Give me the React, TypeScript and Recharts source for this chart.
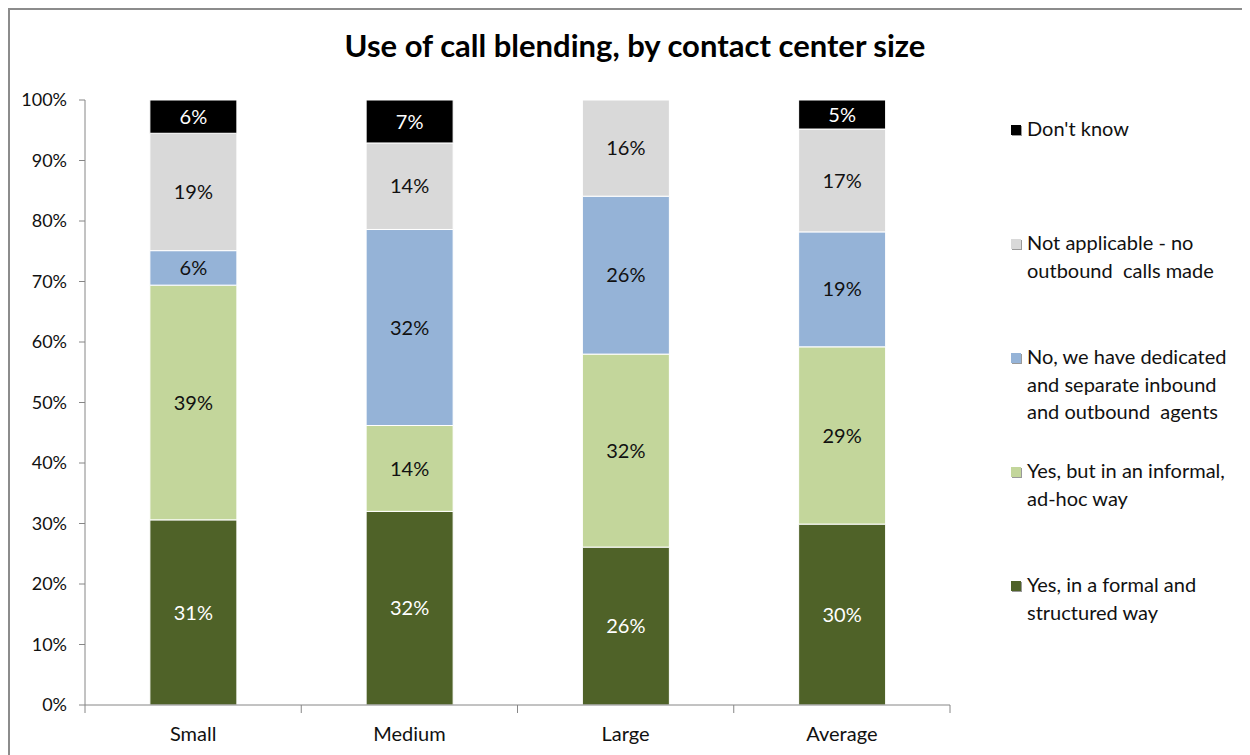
import React from 'react';
import { BarChart, Bar, XAxis, YAxis, LabelList } from 'recharts';

const categories = ['Small', 'Medium', 'Large', 'Average'];
const formalStructured = [30.6, 32.0, 26.1, 29.9];
const informalAdHoc = [38.8, 14.2, 31.9, 29.3];
const dedicatedSeparate = [5.7, 32.4, 26.1, 19.0];
const notApplicable = [19.4, 14.3, 15.9, 17.0];
const dontKnow = [5.5, 7.1, 0, 4.8];
const yTicks = [0, 10, 20, 30, 40, 50, 60, 70, 80, 90, 100];

const series = [
  { key: 'formal', name: 'Yes, in a formal and structured way', lines: ['Yes, in a formal and', 'structured way'], values: formalStructured, color: '#4F6228', text: '#ffffff' },
  { key: 'informal', name: 'Yes, but in an informal, ad-hoc way', lines: ['Yes, but in an informal,', 'ad-hoc way'], values: informalAdHoc, color: '#C3D69B', text: '#111111' },
  { key: 'dedicated', name: 'No, we have dedicated and separate inbound and outbound agents', lines: ['No, we have dedicated', 'and separate inbound', 'and outbound  agents'], values: dedicatedSeparate, color: '#95B3D7', text: '#111111' },
  { key: 'na', name: 'Not applicable - no outbound calls made', lines: ['Not applicable - no', 'outbound  calls made'], values: notApplicable, color: '#D9D9D9', text: '#111111' },
  { key: 'dk', name: "Don't know", lines: ["Don't know"], values: dontKnow, color: '#000000', text: '#ffffff' },
];

const data = categories.map((c, i) => {
  const row: Record<string, any> = { category: c };
  series.forEach((s) => { row[s.key] = s.values[i]; });
  return row;
});

const FONT = 'Lato, "Open Sans", sans-serif';

const legendTops = [105, 219, 333, 447, 561];

const LegendBlock = () => {
  const ordered = [...series].reverse();
  return (
    <div style={{ position: 'absolute', left: 1001, top: 0, width: 240, fontFamily: FONT }}>
      {ordered.map((s, i) => (
        <div key={s.key} style={{ position: 'absolute', left: 0, top: legendTops[i], display: 'flex', alignItems: 'flex-start' }}>
          <div style={{ width: 10, height: 10, background: s.color, marginTop: 10, marginRight: 6, boxShadow: '1px 1px 0 #999' }} />
          <div style={{ fontSize: 20, lineHeight: '27.5px', color: '#111', whiteSpace: 'pre' }}>
            {s.lines.map((l, j) => <div key={j}>{l}</div>)}
          </div>
        </div>
      ))}
    </div>
  );
};

const XTick = (props: any) => {
  const { x, y, payload, index } = props;
  const half = payload && payload.offset ? payload.offset : 106.9;
  return (
    <g>
      <line x1={x - half} y1={y - 8} x2={x - half} y2={y} stroke="#868686" strokeWidth={1} />
      {index === categories.length - 1 && (
        <line x1={x + half} y1={y - 8} x2={x + half} y2={y} stroke="#868686" strokeWidth={1} />
      )}
      <text x={x} y={y + 28} textAnchor="middle" fontSize={20} fontFamily={FONT} fill="#111">{payload.value}</text>
    </g>
  );
};

const fmt = (v: any) => (Number(v) > 0 ? `${Math.round(Number(v))}%` : '');

export default function App() {
  return (
    <div style={{ position: 'relative', width: 1241, height: 746, borderLeft: '2px solid #8c8c8c', borderTop: '2px solid #8c8c8c', background: '#fff' }}>
      <div style={{ position: 'absolute', left: 0, top: 17, width: 1250, textAlign: 'center', fontFamily: FONT, fontWeight: 700, fontSize: 31, lineHeight: '36px', color: '#000' }}>
        Use of call blending, by contact center size
      </div>
      <BarChart
        width={1240}
        height={745}
        data={data}
        margin={{ top: 90, right: 300, bottom: 20, left: 15 }}
        barCategoryGap="30%"
      >
        <YAxis
          type="number"
          domain={[0, 100]}
          ticks={yTicks}
          interval={0}
          width={60}
          tickFormatter={(v: number) => `${v}%`}
          axisLine={{ stroke: '#868686' }}
          tickLine={{ stroke: '#868686' }}
          tickSize={6}
          tickMargin={12}
          tick={{ fontSize: 18, fontFamily: FONT, fill: '#111' }}
        />
        <XAxis
          dataKey="category"
          axisLine={{ stroke: '#868686' }}
          tickLine={false}
          height={30}
          interval={0}
          tick={<XTick />}
        />
        {series.map((s) => (
          <Bar key={s.key} dataKey={s.key} name={s.name} stackId="a" fill={s.color} stroke="#ffffff" strokeWidth={1} isAnimationActive={false}>
            <LabelList dataKey={s.key} position="center" formatter={fmt} fill={s.text} fontSize={20} fontFamily={FONT} />
          </Bar>
        ))}
      </BarChart>
      <LegendBlock />
    </div>
  );
}
